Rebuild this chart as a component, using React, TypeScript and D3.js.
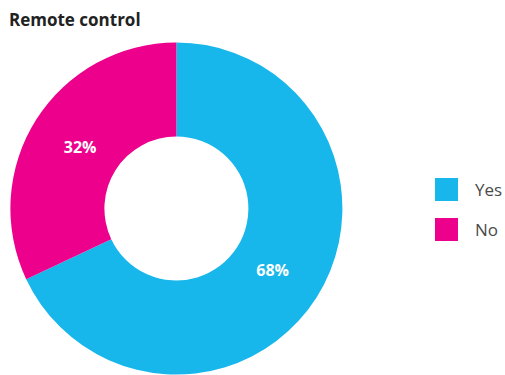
import React from "react";
import * as d3 from "d3";

const categories = ["Yes", "No"];
const values = [68, 32];
const colors = ["#17b7eb", "#ec008c"];
const title = "Remote control";

export default function App() {
  const width = 505;
  const height = 375;
  const cx = 176.4;
  const cy = 208.5;
  const outerR = 166;
  const innerR = 72;

  const pie = d3.pie<number>().sort(null).value((d) => d);
  const arcs = pie(values);
  const arc = d3.arc<d3.PieArcDatum<number>>().innerRadius(innerR).outerRadius(outerR);
  const labelArc = d3.arc<d3.PieArcDatum<number>>().innerRadius(114).outerRadius(114);

  const legendY = d3.scaleBand<string>().domain(categories).range([178, 241]).paddingInner(0.425).paddingOuter(0);

  return (
    <svg
      width={width}
      height={height}
      style={{ position: "absolute", left: 0, top: 0 }}
      fontFamily="'Open Sans', sans-serif"
    >
      <rect width={width} height={height} fill="#fff" />
      <text x={9} y={26} fontSize={17} fontWeight="bold" fill="#222">
        {title}
      </text>
      <g transform={`translate(${cx},${cy})`}>
        {arcs.map((a, i) => (
          <path key={i} d={arc(a) || ""} fill={colors[i]} />
        ))}
        {arcs.map((a, i) => {
          const [x, y] = labelArc.centroid(a);
          return (
            <text
              key={"l" + i}
              x={x}
              y={y}
              textAnchor="middle"
              dominantBaseline="central"
              fill="#fff"
              fontWeight="bold"
              fontSize={16}
            >
              {a.data}%
            </text>
          );
        })}
      </g>
      {categories.map((c, i) => {
        const y0 = legendY(c) as number;
        const bw = legendY.bandwidth();
        return (
          <g key={c}>
            <rect x={435} y={y0} width={23} height={bw} fill={colors[i]} />
            <text x={475} y={y0 + bw / 2} dominantBaseline="central" fontSize={17} fill="#4a4a4a">
              {c}
            </text>
          </g>
        );
      })}
    </svg>
  );
}
